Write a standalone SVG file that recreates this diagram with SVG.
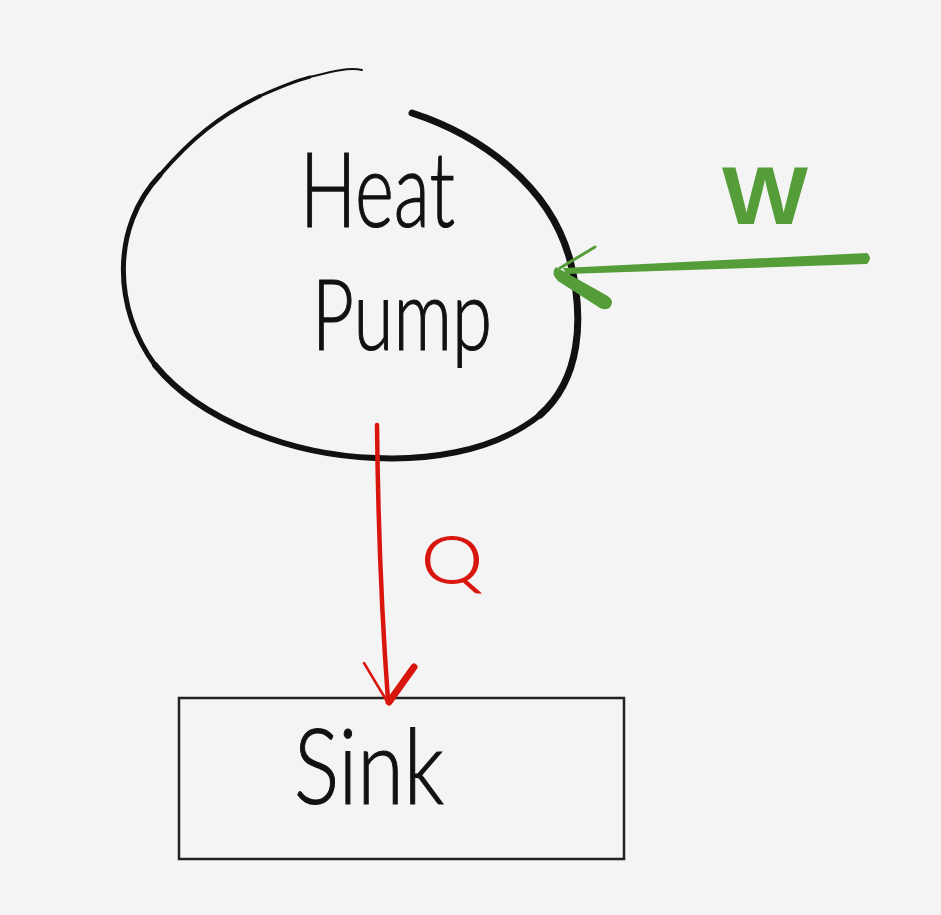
<svg xmlns="http://www.w3.org/2000/svg" width="941" height="915" viewBox="0 0 941 915">
<style>
.ink{fill:none;stroke:#111;stroke-linecap:round;stroke-linejoin:round}
.lbl{font-family:"Lato","Liberation Sans","DejaVu Sans",sans-serif;font-weight:300;fill:#111;stroke:#111;stroke-width:1.2}
.green{fill:#559d39}
.red{fill:#d8160e}
</style>
<rect width="941" height="915" fill="#f4f4f4"/>
<g id="heat-pump">
<path class="ink" stroke-width="7" d="M412,113 C480,135 550,185 570,260 C585,320 580,380 540,415"/>
<path class="ink" stroke-width="6" d="M540,415 C490,455 420,460 375,458 C290,455 200,420 155,365"/>
<path class="ink" stroke-width="5" d="M155,365 C114,310 110,228 160,175"/>
<path class="ink" stroke-width="4" d="M160,175 C190,140 220,115 260,96"/>
<path class="ink" stroke-width="3" d="M260,96 C280,87 295,81 310,77"/>
<path class="ink" stroke-width="2" d="M310,77 C330,72 348,67 362,70"/>
<text class="lbl" x="300" y="227" font-size="104" textLength="155" lengthAdjust="spacingAndGlyphs">Heat</text>
<text class="lbl" x="312" y="350" font-size="98" textLength="180" lengthAdjust="spacingAndGlyphs">Pump</text>
</g>
<g id="sink">
<rect x="179" y="698" width="445" height="161" fill="none" stroke="#222" stroke-width="2.5"/>
<text class="lbl" x="294" y="804" font-size="104" textLength="150" lengthAdjust="spacingAndGlyphs">Sink</text>
</g>
<g id="connectors">
<g id="work-arrow">
<path class="green" d="M867,253 Q873,258 867,264 L566,274 L563,268 Z"/>
<path fill="none" stroke="#559d39" stroke-width="3" stroke-linecap="round" d="M595,247 L560,268"/>
<path class="green" d="M556,267 Q550,273 558,281 L600,308 Q610,312 612,303 Q612,298 606,295 L565,272 Z"/>
<text x="722" y="224" font-family="Liberation Sans,DejaVu Sans,sans-serif" font-size="82" font-weight="bold" fill="#559d39" textLength="86" lengthAdjust="spacingAndGlyphs">W</text>
</g>
<g id="heat-arrow">
<path fill="none" stroke="#d8160e" stroke-width="4.5" stroke-linecap="round" d="M377,425 C378,520 382,620 388,700"/>
<path fill="none" stroke="#d8160e" stroke-width="2.5" stroke-linecap="round" d="M364,663 L388,703"/>
<path fill="none" stroke="#d8160e" stroke-width="7" stroke-linecap="round" d="M414,667 L389,702"/>
<text x="421" y="583" font-family="Lato,Liberation Sans,DejaVu Sans,sans-serif" font-weight="300" font-size="66" fill="#d8160e" stroke="#d8160e" stroke-width="1" textLength="62" lengthAdjust="spacingAndGlyphs">Q</text>
</g>
</g>
</svg>
